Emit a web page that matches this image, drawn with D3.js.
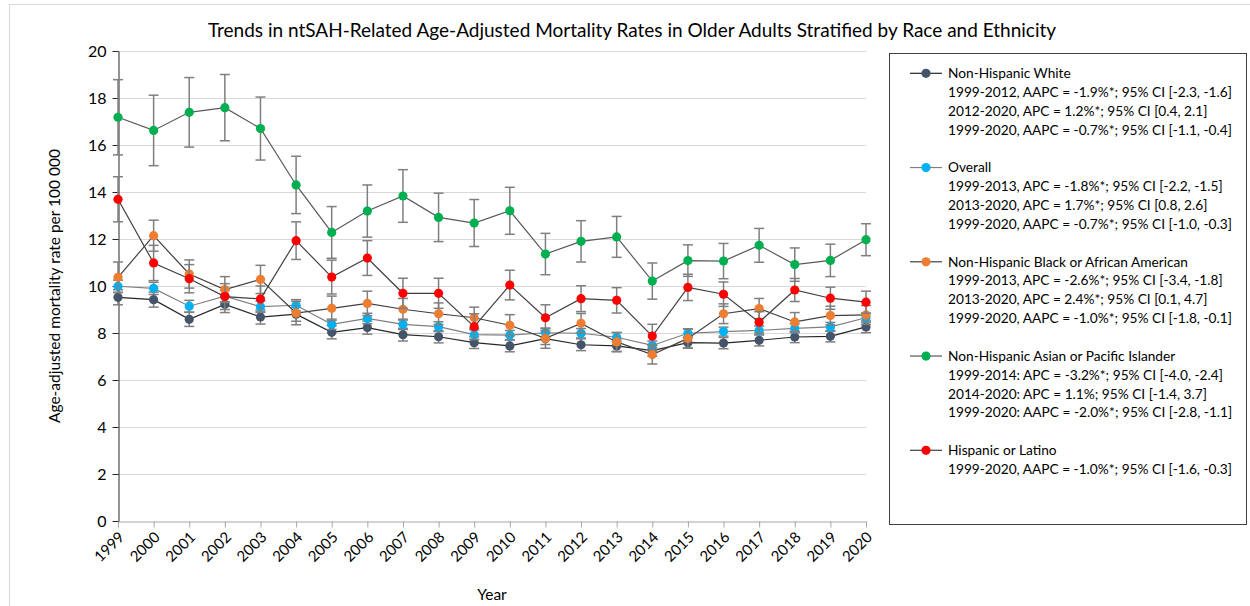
<!DOCTYPE html>
<html>
<head>
<meta charset="utf-8">
<script src="https://cdn.jsdelivr.net/npm/d3@7"></script>
<style>
  body { margin: 0; background: #fff; }
  svg { font-family: Lato, "Open Sans", sans-serif; }
</style>
</head>
<body>
<svg id="chart" width="1250" height="606"></svg>
<script>
// years on the x axis
const years = d3.range(1999, 2021).map(String);

// age-adjusted mortality rates per 100 000
const white    = [9.52, 9.42, 8.58, 9.22, 8.68, 8.80, 8.03, 8.23, 7.93, 7.84, 7.59, 7.45, 7.76, 7.50, 7.45, 7.25, 7.59, 7.57, 7.69, 7.83, 7.86, 8.26];
const overall  = [9.99, 9.90, 9.14, 9.57, 9.12, 9.18, 8.37, 8.62, 8.37, 8.27, 7.93, 7.91, 8.01, 7.99, 7.82, 7.47, 7.99, 8.06, 8.11, 8.20, 8.26, 8.65];
const black    = [10.37, 12.14, 10.51, 9.85, 10.28, 8.85, 9.05, 9.26, 9.01, 8.82, 8.65, 8.33, 7.77, 8.41, 7.62, 7.08, 7.77, 8.82, 9.04, 8.47, 8.74, 8.77];
const asian    = [17.18, 16.62, 17.39, 17.59, 16.70, 14.30, 12.28, 13.19, 13.83, 12.92, 12.68, 13.20, 11.36, 11.90, 12.09, 10.21, 11.08, 11.06, 11.73, 10.91, 11.09, 11.97];
const hispanic = [13.69, 10.98, 10.31, 9.55, 9.45, 11.93, 10.38, 11.19, 9.69, 9.69, 8.27, 10.04, 8.65, 9.46, 9.39, 7.87, 9.94, 9.65, 8.46, 9.83, 9.48, 9.31];

// 95% CI half widths
const whiteCI    = [0.32, 0.32, 0.30, 0.35, 0.30, 0.30, 0.28, 0.28, 0.27, 0.26, 0.25, 0.25, 0.25, 0.25, 0.25, 0.24, 0.24, 0.24, 0.24, 0.24, 0.24, 0.25];
const overallCI  = [0.26, 0.26, 0.25, 0.25, 0.24, 0.24, 0.22, 0.22, 0.22, 0.21, 0.20, 0.20, 0.20, 0.20, 0.20, 0.19, 0.19, 0.19, 0.19, 0.19, 0.19, 0.19];
const blackCI    = [0.65, 0.66, 0.60, 0.55, 0.60, 0.50, 0.52, 0.52, 0.46, 0.46, 0.45, 0.45, 0.42, 0.42, 0.40, 0.40, 0.40, 0.42, 0.43, 0.40, 0.40, 0.40];
const asianCI    = [1.60, 1.50, 1.48, 1.41, 1.34, 1.22, 1.10, 1.11, 1.12, 1.03, 1.00, 1.00, 0.88, 0.88, 0.87, 0.77, 0.67, 0.75, 0.72, 0.71, 0.69, 0.68];
const hispanicCI = [0.96, 0.75, 0.60, 0.55, 0.55, 0.80, 0.72, 0.74, 0.64, 0.64, 0.55, 0.63, 0.55, 0.55, 0.54, 0.50, 0.56, 0.52, 0.45, 0.49, 0.47, 0.47];

const yTicks = [0, 2, 4, 6, 8, 10, 12, 14, 16, 18, 20];

const seriesNames = ["Non-Hispanic White", "Overall", "Non-Hispanic Black or African American", "Non-Hispanic Asian or Pacific Islander", "Hispanic or Latino"];
const seriesColors = ["#44546A", "#00B0F0", "#ED7D31", "#00B050", "#FF0000"];
const lineColors = ["#262626", "#7f7f7f", "#404040", "#595959", "#404040"];

// trend notes shown under each legend entry
const trendNotes = [
  ["1999-2012, AAPC = -1.9%*; 95% CI [-2.3, -1.6]", "2012-2020, APC = 1.2%*; 95% CI [0.4, 2.1]", "1999-2020, AAPC = -0.7%*; 95% CI [-1.1, -0.4]"],
  ["1999-2013, APC = -1.8%*; 95% CI [-2.2, -1.5]", "2013-2020, APC = 1.7%*; 95% CI [0.8, 2.6]", "1999-2020, AAPC = -0.7%*; 95% CI [-1.0, -0.3]"],
  ["1999-2013, APC = -2.6%*; 95% CI [-3.4, -1.8]", "2013-2020, APC = 2.4%*; 95% CI [0.1, 4.7]", "1999-2020, AAPC = -1.0%*; 95% CI [-1.8, -0.1]"],
  ["1999-2014: APC = -3.2%*; 95% CI [-4.0, -2.4]", "2014-2020: APC = 1.1%; 95% CI [-1.4, 3.7]", "1999-2020: AAPC = -2.0%*; 95% CI [-2.8, -1.1]"],
  ["1999-2020, AAPC = -1.0%*; 95% CI [-1.6, -0.3]"]
];

const seriesValues = [white, overall, black, asian, hispanic];
const seriesCI = [whiteCI, overallCI, blackCI, asianCI, hispanicCI];

const series = seriesNames.map((name, i) => ({
  name,
  color: seriesColors[i],
  lineColor: lineColors[i],
  notes: trendNotes[i],
  points: years.map((yr, j) => ({ year: yr, value: seriesValues[i][j], ci: seriesCI[i][j] }))
}));

const svg = d3.select("#chart");

// outer chart frame
svg.append("rect")
  .attr("x", 9.5).attr("y", 4.5)
  .attr("width", 1250).attr("height", 610)
  .attr("fill", "none").attr("stroke", "#d9d9d9");

const x = d3.scalePoint().domain(years).range([118, 866]);
const y = d3.scaleLinear().domain([0, 20]).range([521, 51]);

// title
svg.append("text")
  .attr("x", 632).attr("y", 37)
  .attr("text-anchor", "middle")
  .attr("font-size", 19)
  .attr("fill", "#000")
  .text("Trends in ntSAH-Related Age-Adjusted Mortality Rates in Older Adults Stratified by Race and Ethnicity");

// gridlines
svg.append("g")
  .selectAll("line")
  .data(yTicks.filter(d => d > 0))
  .join("line")
  .attr("x1", 118).attr("x2", 866)
  .attr("y1", d => Math.round(y(d)) + 0.5).attr("y2", d => Math.round(y(d)) + 0.5)
  .attr("stroke", "#d9d9d9").attr("stroke-width", 1);

// x axis
const xAxis = svg.append("g")
  .attr("transform", "translate(0,521.5)")
  .call(d3.axisBottom(x).tickSize(6).tickSizeOuter(0));
xAxis.select(".domain").attr("stroke", "#a6a6a6");
xAxis.selectAll(".tick line").attr("stroke", "#a6a6a6");
xAxis.selectAll(".tick text")
  .attr("font-size", 15)
  .attr("font-family", "Lato, sans-serif")
  .attr("fill", "#000")
  .attr("text-anchor", "end")
  .attr("y", 0).attr("dy", "0.35em")
  .attr("transform", "translate(3,13) rotate(-45)");

// y axis
const yAxis = svg.append("g")
  .attr("transform", "translate(118.5,0)")
  .call(d3.axisLeft(y).tickValues(yTicks).tickSize(6).tickSizeOuter(0));
yAxis.select(".domain").attr("stroke", "#262626");
yAxis.selectAll(".tick line").attr("stroke", "#262626");
yAxis.selectAll(".tick text")
  .attr("font-size", 16)
  .attr("font-family", "Lato, sans-serif")
  .attr("fill", "#000")
  .attr("x", -12);

// axis titles
svg.append("text")
  .attr("transform", "translate(60,286) rotate(-90)")
  .attr("text-anchor", "middle")
  .attr("font-size", 15.5)
  .text("Age-adjusted mortality rate per 100 000");

svg.append("text")
  .attr("x", 492).attr("y", 600)
  .attr("text-anchor", "middle")
  .attr("font-size", 15.5)
  .text("Year");

const line = d3.line().x(d => x(d.year)).y(d => y(d.value));

series.forEach(s => {
  const g = svg.append("g");
  // error bars
  const eb = g.append("g").attr("stroke", "#7f7f7f").attr("stroke-width", 1.5);
  eb.selectAll("line.bar").data(s.points).join("line").attr("class", "bar")
    .attr("x1", d => x(d.year)).attr("x2", d => x(d.year))
    .attr("y1", d => y(d.value - d.ci)).attr("y2", d => y(d.value + d.ci));
  eb.selectAll("line.capTop").data(s.points).join("line").attr("class", "capTop")
    .attr("x1", d => x(d.year) - 5).attr("x2", d => x(d.year) + 5)
    .attr("y1", d => y(d.value + d.ci)).attr("y2", d => y(d.value + d.ci));
  eb.selectAll("line.capBot").data(s.points).join("line").attr("class", "capBot")
    .attr("x1", d => x(d.year) - 5).attr("x2", d => x(d.year) + 5)
    .attr("y1", d => y(d.value - d.ci)).attr("y2", d => y(d.value - d.ci));
  // connecting line
  g.append("path").datum(s.points)
    .attr("d", line)
    .attr("fill", "none")
    .attr("stroke", s.lineColor)
    .attr("stroke-width", 1.2);
  // markers
  g.selectAll("circle").data(s.points).join("circle")
    .attr("cx", d => x(d.year)).attr("cy", d => y(d.value))
    .attr("r", 4.6)
    .attr("fill", s.color);
});

// legend
const legend = svg.append("g");
legend.append("rect")
  .attr("x", 889.5).attr("y", 53.5)
  .attr("width", 357).attr("height", 471)
  .attr("fill", "#fff").attr("stroke", "#404040");

const rowH = 18.85;
let row = 0;
series.forEach(s => {
  const cy = 73.3 + row * rowH;
  legend.append("line")
    .attr("x1", 910).attr("x2", 942)
    .attr("y1", cy).attr("y2", cy)
    .attr("stroke", s.lineColor).attr("stroke-width", 1.2);
  legend.append("circle")
    .attr("cx", 926).attr("cy", cy).attr("r", 4.6)
    .attr("fill", s.color);
  [s.name].concat(s.notes).forEach((t, k) => {
    legend.append("text")
      .attr("x", 948).attr("y", cy + k * rowH)
      .attr("dy", "0.35em")
      .attr("font-size", 13.7)
      .attr("fill", "#000")
      .text(t);
  });
  row += s.notes.length + 2;
});
</script>
</body>
</html>
